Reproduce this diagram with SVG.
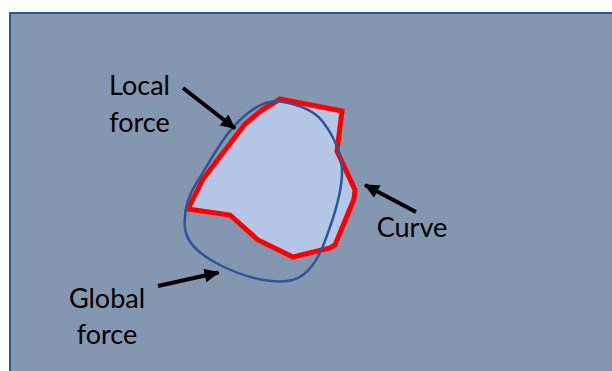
<svg xmlns="http://www.w3.org/2000/svg" width="612" height="371" viewBox="0 0 612 371">
<style>
.lbl{font-family:Lato,"Liberation Sans",sans-serif;font-size:27px;fill:#000;text-anchor:middle}
.arr{stroke:#000;stroke-width:4;fill:none;marker-end:url(#ah)}
</style>
<defs>
<marker id="ah" markerUnits="userSpaceOnUse" markerWidth="16" markerHeight="14" refX="14" refY="7" orient="auto">
<path d="M0,0 L15,7 L0,14 Z" fill="#000"/>
</marker>
</defs>
<rect x="0" y="0" width="612" height="371" fill="#fff"/>
<rect id="panel" x="10" y="13" width="640" height="400" fill="#8497B0" stroke="#2F5597" stroke-width="2"/>
<g id="shape">
<polygon points="280,99 342,111 337,151 355,190 354,199 335,245 330,248 293,257 258,240 230,215 188,209 203,179 245,124 262,110" fill="#B4C7E7" stroke="#FF0000" stroke-width="5" stroke-linejoin="miter"/>
</g>
<g id="global-curve">
<path d="M280,101.5 C295.7,103.9 313.5,109.3 323,122 C333.7,136.2 342,154.2 342,172 C342,190.8 336.2,209.3 330,227 C324,244.3 317.6,264 303,275 C296.6,279.8 288,281.5 280,281.5 C259.3,281.5 238.5,274.3 220,265 C204.8,257.4 186.7,244.9 185,228 C183.4,212.3 188.4,195.3 197,182 C210,161.8 221,139 238,122 C249,111 264.9,99.2 280,101.5 Z" fill="none" stroke="#2F5597" stroke-width="2.5"/>
</g>
<g id="connectors">
<line class="arr" x1="183" y1="88" x2="235" y2="128.5"/>
<line class="arr" x1="416" y1="212" x2="365" y2="185"/>
<line class="arr" x1="158" y1="286" x2="218.5" y2="272.5"/>
</g>
<g id="local-label"><text class="lbl" x="139.5" y="95">Local</text><text class="lbl" x="139.5" y="131.5">force</text></g>
<g id="curve-label"><text class="lbl" x="412" y="237">Curve</text></g>
<g id="global-label"><text class="lbl" x="107" y="308">Global</text><text class="lbl" x="107" y="343.5">force</text></g>
</svg>
